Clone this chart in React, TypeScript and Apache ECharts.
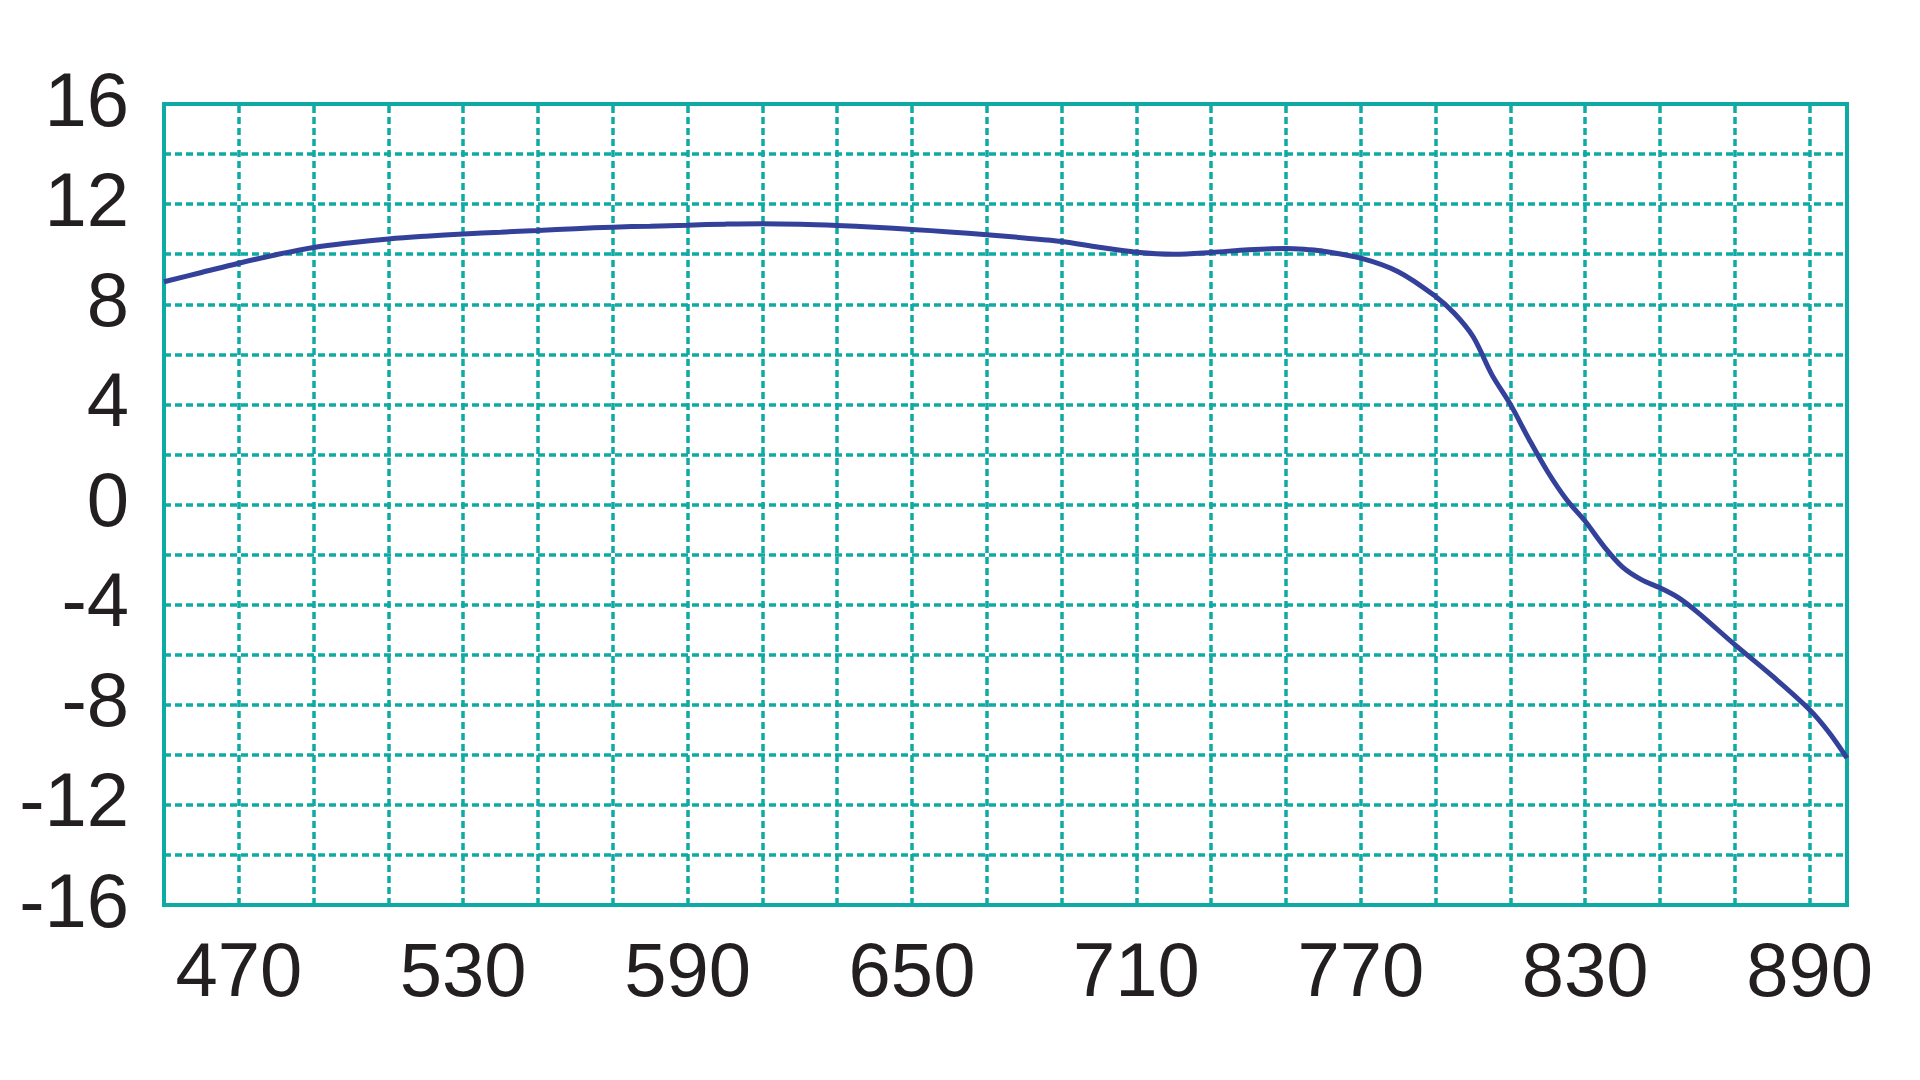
import React, { useEffect, useRef } from "react";
import * as echarts from "echarts";

const wavelengths = [
  450, 460, 470, 480, 490, 500, 510, 520, 530, 540, 550, 560, 570, 580, 590, 600,
  610, 620, 630, 640, 650, 660, 670, 680, 690, 700, 710, 720, 730, 740, 750, 756,
  760, 770, 780, 790, 795, 800, 805, 810, 815, 820, 825, 830, 835, 840, 845, 850,
  855, 860, 870, 880, 890, 895, 900,
];
const gainValues = [
  8.9, 9.27, 9.64, 9.98, 10.27, 10.46, 10.61, 10.72, 10.81, 10.88, 10.95, 11.02, 11.08, 11.12, 11.16, 11.2,
  11.22, 11.2, 11.15, 11.08, 10.99, 10.89, 10.78, 10.65, 10.51, 10.28, 10.08, 10.0, 10.07, 10.18, 10.23, 10.18,
  10.12, 9.84, 9.3, 8.31, 7.64, 6.71, 5.2, 4.0, 2.6, 1.3, 0.2, -0.67, -1.67, -2.5, -3.0, -3.33,
  -3.73, -4.3, -5.6, -6.85, -8.2, -9.07, -10.13,
];
const verticalGridValues = [
  470, 490, 510, 530, 550, 570, 590, 610, 630, 650, 670, 690, 710, 730, 750, 770,
  790, 810, 830, 850, 870, 890,
];
const xLabelValues = [470, 530, 590, 650, 710, 770, 830, 890];
const yLabelValues = [-16, -12, -8, -4, 0, 4, 8, 12, 16];

const TEAL = "#0FAAA4";
const CURVE = "#34419A";
const TEXT = "#231F20";
const FONT = "'Liberation Sans', Arial, sans-serif";

export default function App() {
  const ref = useRef<HTMLDivElement>(null);
  useEffect(() => {
    if (!ref.current) return;
    const chart = echarts.init(ref.current, undefined, { renderer: "svg" });
    const lineData = wavelengths.map((w, i) => [w, gainValues[i]]);
    chart.setOption({
      animation: false,
      backgroundColor: "#ffffff",
      grid: {
        left: 164,
        top: 104,
        width: 1683,
        height: 801,
        show: true,
        borderColor: TEAL,
        borderWidth: 4,
        backgroundColor: "transparent",
      },
      xAxis: {
        type: "value",
        min: 450,
        max: 900,
        interval: 10,
        axisLine: { show: false },
        axisTick: { show: false },
        splitLine: { show: false },
        axisLabel: {
          show: true,
          margin: 26,
          fontSize: 76,
          fontFamily: FONT,
          color: TEXT,
          formatter: (v: number) => (xLabelValues.includes(v) ? String(v) : ""),
        },
      },
      yAxis: {
        type: "value",
        min: -16,
        max: 16,
        interval: 2,
        axisLine: { show: false },
        axisTick: { show: false },
        splitLine: {
          show: true,
          lineStyle: { color: TEAL, width: 3.5, type: [7, 4] },
        },
        axisLabel: {
          show: true,
          margin: 35,
          fontSize: 76,
          fontFamily: FONT,
          color: TEXT,
          formatter: (v: number) => (yLabelValues.includes(v) ? "{a|" + String(v) + "}" : ""),
          rich: {
            a: {
              fontSize: 76,
              fontFamily: FONT,
              color: TEXT,
              padding: [0, 0, 10, 0],
            },
          },
        },
      },
      series: [
        {
          type: "line",
          data: [],
          z: 1,
          silent: true,
          markLine: {
            silent: true,
            symbol: ["none", "none"],
            label: { show: false },
            lineStyle: { color: TEAL, width: 3.5, type: [7, 4] },
            data: verticalGridValues.map((v) => ({ xAxis: v })),
          },
        },
        {
          type: "line",
          data: lineData,
          z: 5,
          smooth: 0.35,
          showSymbol: false,
          symbol: "none",
          lineStyle: { color: CURVE, width: 5 },
        },
      ],
    });
    return () => chart.dispose();
  }, []);
  return (
    <div
      ref={ref}
      style={{ position: "fixed", left: 0, top: 0, width: 1920, height: 1080, background: "#fff" }}
    />
  );
}
